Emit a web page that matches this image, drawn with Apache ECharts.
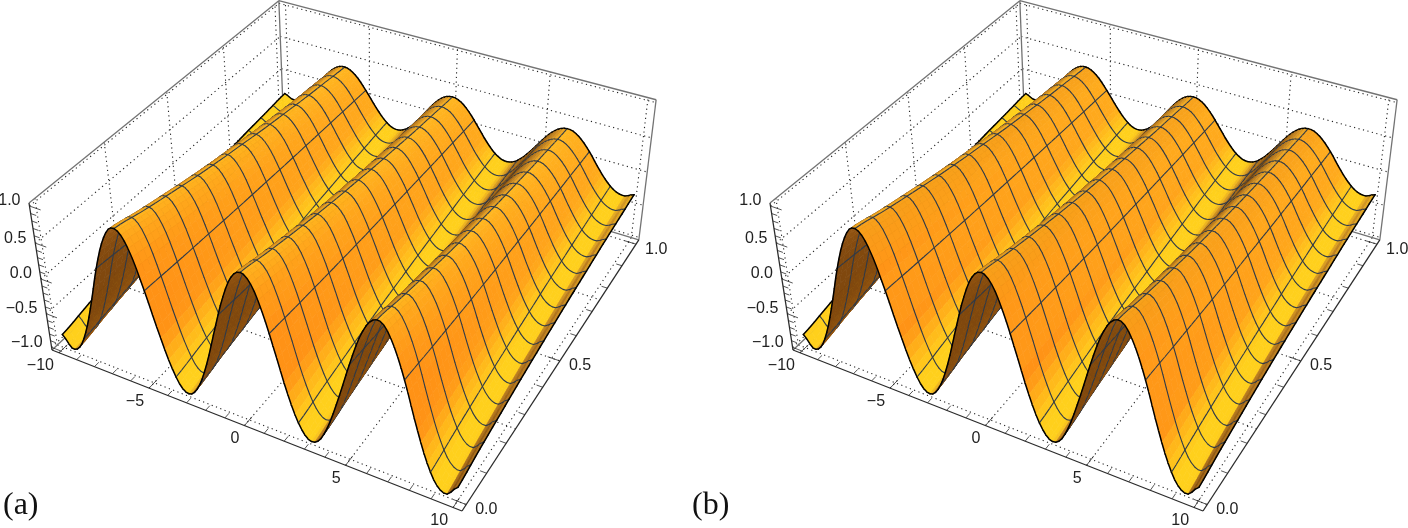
<!DOCTYPE html>
<html>
<head>
<meta charset="utf-8">
<script src="https://cdn.jsdelivr.net/npm/echarts@6/dist/echarts.min.js"></script>
<style>html,body{margin:0;padding:0;background:#fff}#c{width:1408px;height:528px}</style>
</head>
<body>
<div id="c"></div>
<script>
// ---- values ----
const profileX = [-10,-9.5,-9,-8.5,-8,-7.5,-7,-6.5,-6,-5.5,-5,-4.5,-4,-3.5,-3,-2.5,-2,-1.5,-1,-0.5,0,0.5,1,1.5,2,2.5,3,3.5,4,4.5,5,5.5,6,6.5,7,7.5,8,8.5,9,9.5,10];
const heightAtStart = [-0.84,-1.00,-0.91,-0.60,-0.15,0.35,0.75,0.98,0.96,0.71,0.28,-0.21,-0.65,-0.94,-0.99,-0.80,-0.42,0.07,0.54,0.88,1.00,0.88,0.54,0.07,-0.42,-0.80,-0.99,-0.94,-0.65,-0.21,0.28,0.71,0.96,0.98,0.75,0.35,-0.15,-0.60,-0.91,-1.00,-0.84];
const decayY = [0,0.1,0.2,0.3,0.4,0.5,0.6,0.7,0.8,0.9,1];
const decayFactor = [1,0.905,0.82,0.74,0.67,0.61,0.55,0.50,0.45,0.41,0.37];
const xTicks = [-10,-5,0,5,10];
const xTickLabels = ['\u221210','\u22125','0','5','10'];
const yTicks = [0,0.5,1];
const yTickLabels = ['0.0','0.5','1.0'];
const yGrid = [0,0.25,0.5,0.75,1];
const zTicks = [-1,-0.5,0,0.5,1];
const zTickLabels = ['\u22121.0','\u22120.5','0.0','0.5','1.0'];
const panels = [
  {name:'a', shift:0,   label:'(a)', labelX:3},
  {name:'b', shift:741, label:'(b)', labelX:692}
];
// ---- view of the box (screen position of the box corners) ----
const O=[52,350], A=[462,511], B=[284,133], C=[29,203];
const wa=0.8847, wb=1.213, wc=0.933;

function project(x,y,z,shift){
  const X=(x+10.4)/20.8, Y=(y+0.02)/1.04, Z=(z+1.04)/2.08;
  const den=1+X*(wa-1)+Y*(wb-1)+Z*(wc-1);
  const f=i=>(O[i]+X*(wa*A[i]-O[i])+Y*(wb*B[i]-O[i])+Z*(wc*C[i]-O[i]))/den;
  return [f(0)+shift,f(1)];
}
// smooth reading between the sampled values (Catmull-Rom)
function cr(arr,t){
  const n=arr.length-1; t=Math.max(0,Math.min(n,t));
  const i=Math.min(n-1,Math.floor(t)), u=t-i;
  const p0=arr[Math.max(0,i-1)],p1=arr[i],p2=arr[i+1],p3=arr[Math.min(n,i+2)];
  return 0.5*(2*p1+(p2-p0)*u+(2*p0-5*p1+4*p2-p3)*u*u+(3*p1-p0-3*p2+p3)*u*u*u);
}
const prof=x=>cr(heightAtStart,(x+10)/0.5);
const dec=y=>cr(decayFactor,y/0.1);
const NX=128, NY=48;   // 8 cells per x mesh step, 3 per y mesh step
const gx=i=>-10+20*i/NX, gy=j=>j/NY;
const Z=[];
for(let j=0;j<=NY;j++){const r=[];for(let i=0;i<=NX;i++)r.push(prof(gx(i))*dec(gy(j)));Z.push(r);}

const mix=(a,b,t)=>{t=Math.max(0,Math.min(1,t));return [a[0]+(b[0]-a[0])*t,a[1]+(b[1]-a[1])*t,a[2]+(b[2]-a[2])*t];};
function ramp(s){
  if(s<=0) return mix([255,184,32],[255,146,22],-s/0.95);
  if(s<0.13) return mix([252,178,32],[205,140,36],s/0.13);
  return mix([205,140,36],[132,78,14],(s-0.13)/0.3);
}
function cellColor(i,j,back,panel){
  const xm=gx(i+0.5), ym=gy(j+0.5);
  const s=(prof(xm+0.05)-prof(xm-0.05))/0.1*dec(ym);
  const h=prof(xm);
  if(back){ const c=mix([168,98,20],[128,72,14],Math.abs(s)/0.9); return 'rgb('+c.map(Math.round)+')'; }
  let c=ramp(s);
  const w=Math.max(0,Math.min(1,(-h-0.3)*1.7))*(1-Math.max(0,Math.min(1,s/0.2)));
  c=mix(c,[255,208,28],w);
  if(panel==='b'){ // second panel has a slightly harder sheen near the crests
    if(s<0&&h>0.6) c=mix(c,[236,132,20],(h-0.6)*1.0);
    if(s<0&&h<0.45&&h>-0.2) c=mix(c,[255,172,30],0.22);
  }
  return 'rgb('+c.map(Math.round)+')';
}
function surfaceRender(panel){
  return function(params,api){
    const i=api.value(0), j=api.value(1), sh=panel.shift;
    const P=(a,b)=>api.coord(project(gx(a),gy(b),Z[b][a],sh));
    const p00=P(i,j),p10=P(i+1,j),p11=P(i+1,j+1),p01=P(i,j+1);
    const area=(p10[0]-p00[0])*(p11[1]-p00[1])-(p10[1]-p00[1])*(p11[0]-p00[0])
              +(p11[0]-p00[0])*(p01[1]-p00[1])-(p11[1]-p00[1])*(p01[0]-p00[0]);
    const back=area>0;
    const col=cellColor(i,j,back,panel.name);
    const ch=[{type:'polygon',shape:{points:[p00,p10,p11,p01]},style:{fill:col,stroke:col,lineWidth:0.7}}];
    const mesh='#2f3a48';
    const line=(a,b,c,w)=>ch.push({type:'polyline',shape:{points:[a,b]},style:{fill:null,stroke:c,lineWidth:w,lineCap:'round'}});
    if(i%8===0&&i>0) line(p00,p01,mesh,1.1);
    if((j+1)%3===0&&j+1<NY) line(p01,p11,mesh,1.1);
    if(j===0) line(p00,p10,'#000',1.5);
    if(j===NY-1) line(p01,p11,'#000',1.5);
    if(i===0) line(p00,p01,'#000',1.5);
    if(i===NX-1) line(p10,p11,'#000',1.5);
    return {type:'group',children:ch};
  };
}
function surfaceData(){
  const d=[];
  for(let j=NY-1;j>=0;j--)for(let i=0;i<NX;i++)d.push([i,j]);
  return d;
}
// frame: segments in data space [x1,y1,z1,x2,y2,z2,kind]
function frameData(){
  const s=[], xa=-10.4,xb=10.4,ya=-0.02,yb=1.02,za=-1.04,zb=1.04;
  xTicks.forEach(x=>{s.push([x,ya,za,x,yb,za,'dot']);s.push([x,yb,za,x,yb,zb,'dot']);});
  yGrid.forEach(y=>{s.push([xa,y,za,xb,y,za,'dot']);s.push([xa,y,za,xa,y,zb,'dot']);});
  zTicks.forEach(z=>{s.push([xa,ya,z,xa,yb,z,'dot']);s.push([xa,yb,z,xb,yb,z,'dot']);});
  [[xa,ya,zb,xa,yb,zb],[xa,yb,zb,xb,yb,zb],[xb,yb,zb,xb,yb,za],[xa,yb,zb,xa,yb,za],[xa,ya,za,xa,yb,za],[xa,yb,za,xb,yb,za]]
    .forEach(e=>s.push([...e,'box']));
  [[xa,ya,zb,xa,ya,za],[xa,ya,za,xb,ya,za],[xb,ya,za,xb,yb,za]].forEach(e=>s.push([...e,'axis']));
  for(let k=-10;k<=10;k++){const L=k%5===0?0.03:0.016;s.push([k,ya,za,k,ya+L*1.04,za,'tick']);}
  for(let k=0;k<=10;k++){const v=k/10,L=k%5===0?0.6:0.3;s.push([xb,v,za,xb-L,v,za,'tick']);}
  for(let k=-10;k<=10;k++){const v=k/10,L=k%5===0?0.6:0.3;s.push([xa,ya,v,xa+L,ya,v,'tick']);}
  return s;
}
const styles={
  dot:{stroke:'#262626',lineWidth:1.1,lineDash:[1.2,3.4]},
  box:{stroke:'#737373',lineWidth:1.3},
  axis:{stroke:'#2b2b2b',lineWidth:1.3},
  tick:{stroke:'#2b2b2b',lineWidth:0.8}
};
const kindCode=['dot','box','axis','tick'];
function frameRender(panel){
  return function(params,api){
    const v=[0,1,2,3,4,5].map(k=>api.value(k));
    const a=api.coord(project(v[0],v[1],v[2],panel.shift)), b=api.coord(project(v[3],v[4],v[5],panel.shift));
    return {type:'polyline',shape:{points:[a,b]},style:Object.assign({fill:null},styles[kindCode[api.value(6)]])};
  };
}
function labelData(){
  const out=[];
  xTicks.forEach((x,i)=>out.push([x,-0.02,-1.04,xTickLabels[i],-5,13,'right']));
  yTicks.forEach((y,i)=>out.push([10.4,y,-1.04,yTickLabels[i],9,5,'left']));
  zTicks.forEach((z,i)=>out.push([-10.4,-0.02,z,zTickLabels[i],-9,-5,'right']));
  return out;
}
function labelRender(panel){
  return function(params,api){
    const d=labelData()[params.dataIndex];
    const p=api.coord(project(d[0],d[1],d[2],panel.shift));
    return {type:'text',style:{x:p[0]+d[4],y:p[1]+d[5],text:d[3],fill:'#222',align:d[6],verticalAlign:'middle',
      font:'16px "Liberation Sans", sans-serif'}};
  };
}
const series=[];
panels.forEach(panel=>{
  series.push({type:'custom',name:'frame-'+panel.name,coordinateSystem:'cartesian2d',silent:true,clip:false,animation:false,z:1,
    data:frameData().map(s=>[s[0],s[1],s[2],s[3],s[4],s[5],kindCode.indexOf(s[6])]),
    encode:{x:0,y:1},renderItem:frameRender(panel)});
  series.push({type:'custom',name:'surface-'+panel.name,coordinateSystem:'cartesian2d',silent:true,clip:false,animation:false,z:2,progressive:0,
    data:surfaceData(),encode:{x:0,y:1},renderItem:surfaceRender(panel)});
  series.push({type:'custom',name:'labels-'+panel.name,coordinateSystem:'cartesian2d',silent:true,clip:false,animation:false,z:3,
    data:labelData().map((d,i)=>[d[0],d[1],i]),encode:{x:0,y:1},renderItem:labelRender(panel)});
  series.push({type:'custom',name:'tag-'+panel.name,coordinateSystem:'cartesian2d',silent:true,clip:false,animation:false,z:3,
    data:[[panel.labelX,506]],encode:{x:0,y:1},
    renderItem:(params,api)=>{const p=api.coord([api.value(0),api.value(1)]);
      return {type:'text',style:{x:p[0],y:p[1],text:panel.label,fill:'#111',align:'left',verticalAlign:'middle',font:'32px "Liberation Serif", serif'}};}});
});
const chart=echarts.init(document.getElementById('c'),null,{renderer:'canvas'});
chart.setOption({
  animation:false,
  backgroundColor:'#fff',
  grid:{left:0,right:0,top:0,bottom:0},
  xAxis:{type:'value',min:0,max:1408,show:false},
  yAxis:{type:'value',min:0,max:528,inverse:true,show:false},
  series:series
});
</script>
</body>
</html>
